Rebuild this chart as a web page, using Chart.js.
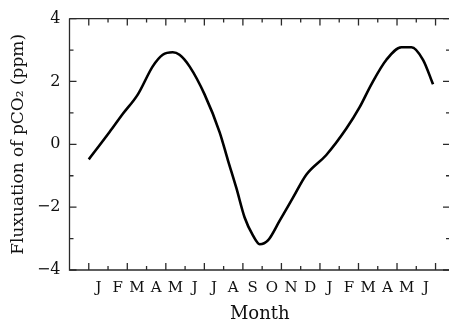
<!DOCTYPE html>
<html lang="en">

<head>
    <meta charset="UTF-8">
    <title>Fluxuation of pCO2</title>
    <style>
        html, body {
            margin: 0;
            padding: 0;
            background: #fff;
            overflow: hidden;
        }

        #chartBox {
            width: 452px;
            height: 322px;
        }
    </style>
    <script src="https://cdn.jsdelivr.net/npm/chart.js"></script>
</head>

<body>
    <div id="chartBox"><canvas id="fluxChart" width="452" height="322"></canvas></div>
    <script>
        // month letters along the bottom, one per month (Jan of year 1 .. Jun of year 2)
        var monthLetters = ['J', 'F', 'M', 'A', 'M', 'J', 'J', 'A', 'S', 'O', 'N', 'D', 'J', 'F', 'M', 'A', 'M', 'J'];
        // labelled y ticks
        var yTickValues = [-4, -2, 0, 2, 4];
        // curve samples: position in months from start of January, and flux in ppm
        var monthPos = [0, 1.08, 1.77, 2.55, 3.32, 3.84, 4.36, 4.71, 5.23, 6.01, 6.79, 7.22, 7.66, 8.09, 8.52, 8.87,
            9.30, 9.91, 10.60, 11.29, 12.33, 13.37, 14.06, 14.67, 15.45, 16.23, 16.75, 17.35, 17.87];
        var fluxPpm = [-0.48, 0.39, 0.97, 1.59, 2.48, 2.85, 2.93, 2.85, 2.48, 1.59, 0.39, -0.50, -1.39, -2.33, -2.90, -3.18,
            -3.06, -2.43, -1.70, -0.97, -0.34, 0.50, 1.18, 1.91, 2.69, 3.09, 3.09, 2.69, 1.91];

        var serif = '"DejaVu Serif", "Liberation Serif", serif';

        // frame with inward ticks on all sides (month boundaries on x, every unit on y)
        var frameTicks = {
            id: 'frameTicks',
            afterDatasetsDraw: function (chart) {
                var ctx = chart.ctx;
                var a = chart.chartArea;
                var xs = chart.scales.x;
                var ys = chart.scales.y;
                ctx.save();
                ctx.strokeStyle = '#2a2a2a';
                ctx.lineWidth = 1.3;
                ctx.beginPath();
                ctx.moveTo(a.left, a.top);
                ctx.lineTo(a.left, a.bottom);
                ctx.lineTo(a.right, a.bottom);
                ctx.lineTo(a.right, a.top);
                ctx.lineTo(a.left, a.top);
                ctx.stroke();

                ctx.beginPath();
                for (var i = 0; i <= monthLetters.length; i++) {
                    var px = xs.getPixelForValue(i);
                    var len = i % 2 === 0 ? 7 : 4;
                    ctx.moveTo(px, a.bottom);
                    ctx.lineTo(px, a.bottom - len);
                    ctx.moveTo(px, a.top);
                    ctx.lineTo(px, a.top + len);
                }
                for (var v = ys.min; v <= ys.max; v++) {
                    var py = ys.getPixelForValue(v);
                    var l = v % 2 === 0 ? 7 : 4;
                    ctx.moveTo(a.left, py);
                    ctx.lineTo(a.left + l, py);
                    ctx.moveTo(a.right, py);
                    ctx.lineTo(a.right - l, py);
                }
                ctx.stroke();
                ctx.restore();
            }
        };

        var ctx = document.getElementById('fluxChart').getContext('2d');
        var fluxChart = new Chart(ctx, {
            type: 'line',
            data: {
                datasets: [{
                    data: monthPos.map(function (m, i) { return { x: m, y: fluxPpm[i] }; }),
                    borderColor: '#000',
                    borderWidth: 2.6,
                    pointRadius: 0,
                    tension: 0.4,
                    cubicInterpolationMode: 'monotone',
                    fill: false
                }]
            },
            options: {
                responsive: false,
                animation: false,
                layout: { padding: { top: 15, right: 2, left: 0, bottom: 0 } },
                plugins: {
                    legend: { display: false },
                    tooltip: { enabled: false }
                },
                scales: {
                    x: {
                        type: 'linear',
                        min: -1,
                        max: 18.75,
                        afterBuildTicks: function (scale) {
                            scale.ticks = monthLetters.map(function (m, i) { return { value: i + 0.5 }; });
                        },
                        afterFit: function (scale) { scale.height = 52; },
                        grid: { display: false, drawTicks: false },
                        border: { display: false },
                        ticks: {
                            autoSkip: false,
                            maxRotation: 0,
                            padding: 9,
                            color: '#111',
                            font: { family: serif, size: 15 },
                            callback: function (value, index) { return monthLetters[index]; }
                        },
                        title: {
                            display: true,
                            text: 'Month',
                            color: '#111',
                            font: { family: serif, size: 18, lineHeight: 0.9 },
                            padding: { top: 0, bottom: 0 }
                        }
                    },
                    y: {
                        min: -4,
                        max: 4,
                        afterBuildTicks: function (scale) {
                            scale.ticks = yTickValues.map(function (v) { return { value: v }; });
                        },
                        afterFit: function (scale) { scale.width = 69.5; },
                        grid: { display: false, drawTicks: false },
                        border: { display: false },
                        ticks: {
                            padding: 9,
                            color: '#111',
                            font: { family: serif, size: 16 },
                            callback: function (value) { return value < 0 ? '\u2212' + Math.abs(value) : String(value); }
                        },
                        title: {
                            display: true,
                            text: 'Fluxuation of pCO\u2082 (ppm)',
                            color: '#111',
                            font: { family: serif, size: 17, lineHeight: 1.2 },
                            padding: { top: 8, bottom: 0 }
                        }
                    }
                }
            },
            plugins: [frameTicks]
        });
    </script>
</body>

</html>
